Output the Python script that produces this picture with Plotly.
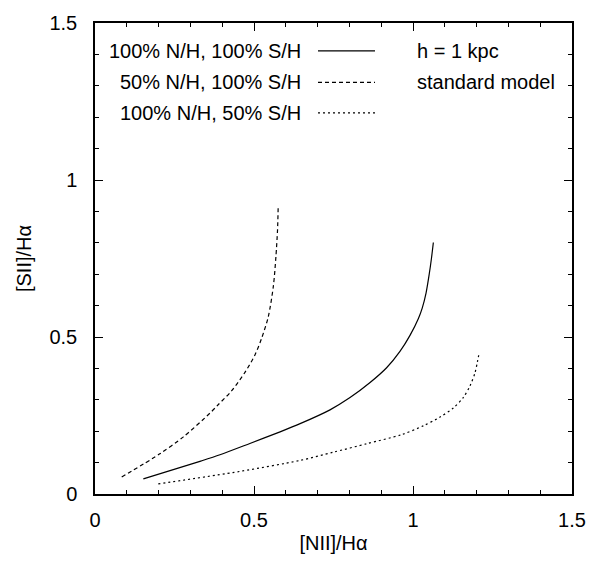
import plotly.graph_objects as go

# [NII]/Halpha vs [SII]/Halpha model tracks (h = 1 kpc, standard model)
nii_full = [0.152, 0.330, 0.393, 0.487, 0.582, 0.645, 0.739, 0.802, 0.865, 0.917,
            0.959, 0.991, 1.017, 1.029, 1.041, 1.051, 1.058, 1.064]
sii_full = [0.048, 0.104, 0.125, 0.161, 0.198, 0.224, 0.268, 0.307, 0.355, 0.402,
            0.454, 0.506, 0.559, 0.592, 0.640, 0.700, 0.750, 0.801]

nii_halfN = [0.084, 0.204, 0.278, 0.362, 0.388, 0.430, 0.472, 0.503, 0.524, 0.545,
             0.561, 0.569, 0.574, 0.576]
sii_halfN = [0.054, 0.128, 0.182, 0.258, 0.285, 0.329, 0.388, 0.443, 0.496, 0.565,
             0.663, 0.757, 0.841, 0.914]

nii_halfS = [0.199, 0.456, 0.645, 0.749, 0.854, 0.964, 1.032, 1.085, 1.127, 1.158,
             1.179, 1.195, 1.203, 1.208]
sii_halfS = [0.032, 0.072, 0.107, 0.133, 0.160, 0.189, 0.217, 0.245, 0.274, 0.307,
             0.344, 0.386, 0.423, 0.449]

labels = ["100% N/H, 100% S/H", "50% N/H, 100% S/H", "100% N/H, 50% S/H"]
dashes = ["solid", "4px,3px", "2px,3px"]
notes = ["h = 1 kpc", "standard model"]

x_ticks = [0, 0.5, 1, 1.5]
x_ticktext = ["0", "0.5", "1", "1.5"]
y_ticks = [0, 0.5, 1, 1.5]
y_ticktext = ["0", "0.5", "1", "1.5"]

FONT = "Liberation Sans, Arial, sans-serif"
FS = 20

fig = go.Figure()
series = [(nii_full, sii_full), (nii_halfN, sii_halfN), (nii_halfS, sii_halfS)]
for (xs, ys), name, dash in zip(series, labels, dashes):
    fig.add_trace(go.Scatter(
        x=xs, y=ys, mode="lines", name=name,
        line=dict(color="black", width=1.2, dash=dash, shape="spline", smoothing=0.8),
        showlegend=False,
    ))

# key: text right-aligned, with a line sample to its right
row_y = [0.941, 0.874, 0.809]
for name, dash, yy in zip(labels, dashes, row_y):
    fig.add_annotation(x=0.436, y=yy, xref="paper", yref="paper", text=name,
                       showarrow=False, xanchor="right", yanchor="middle",
                       font=dict(family=FONT, size=FS, color="black"))
    fig.add_shape(type="line", xref="paper", yref="paper",
                  x0=0.4675, x1=0.587, y0=yy, y1=yy,
                  line=dict(color="black", width=1.2, dash=dash))

for note, yy in zip(notes, row_y[:2]):
    fig.add_annotation(x=0.671, y=yy, xref="paper", yref="paper", text=note,
                       showarrow=False, xanchor="left", yanchor="middle",
                       font=dict(family=FONT, size=FS, color="black"))

axis_common = dict(
    showgrid=False, zeroline=False, showline=True, linecolor="black", linewidth=1.5,
    mirror="ticks", ticks="inside", ticklen=8, tickwidth=1.2, tickcolor="black",
    minor=dict(ticks="inside", ticklen=4, tickwidth=1, tickcolor="black", dtick=0.1),
    tickfont=dict(family=FONT, size=FS, color="black"),
)

fig.update_xaxes(range=[0, 1.5], tickvals=x_ticks, ticktext=x_ticktext,
                 title=dict(text="[NII]/Hα", font=dict(family=FONT, size=FS, color="black"), standoff=6),
                 ticklabelstandoff=7, **axis_common)
fig.update_yaxes(range=[0, 1.5], tickvals=y_ticks, ticktext=y_ticktext,
                 title=dict(text="[SII]/Hα", font=dict(family=FONT, size=FS, color="black"), standoff=12),
                 ticklabelstandoff=12, **axis_common)

fig.update_layout(
    width=600, height=563,
    margin=dict(l=95, r=28, t=20, b=65),
    paper_bgcolor="white", plot_bgcolor="white",
)

fig.write_html("out.html")
